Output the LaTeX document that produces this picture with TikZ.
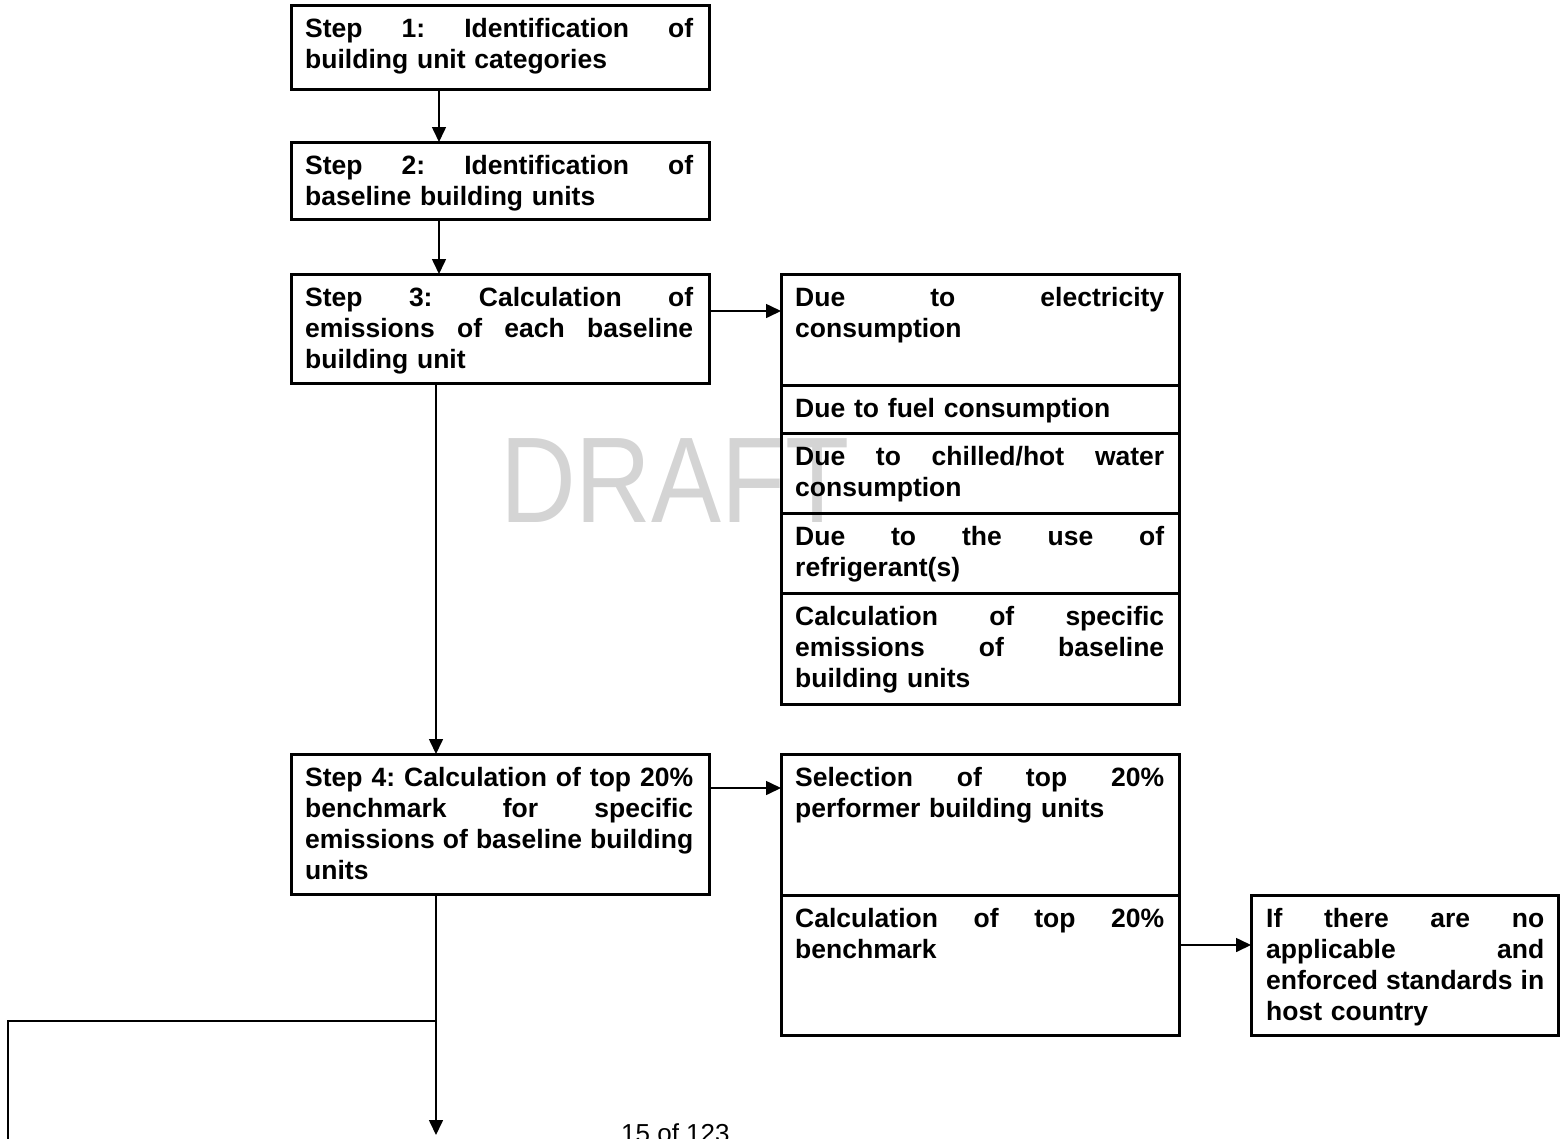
\documentclass[tikz,border=0pt]{standalone}
\usepackage{fontspec}
\setmainfont{Liberation Sans}
\usetikzlibrary{arrows.meta,calc}
\newcommand{\jl}[2]{\leavevmode\hbox to #1{\spaceskip=.278em plus 1fil\relax\xspaceskip=.278em plus 1fil\relax #2}}
\definecolor{wmgray}{RGB}{212,212,212}
\begin{document}
\begin{tikzpicture}[x=1pt,y=-1pt,
  box/.style={draw,line width=3pt,anchor=north west,inner sep=0pt,outer sep=0pt},
  txt/.style={anchor=base west,inner sep=0pt,align=left,font=\bfseries\fontsize{26.5}{31}\selectfont},
  conn/.style={line width=1.6pt,-{Triangle[length=15pt,width=14pt]}},
  plain/.style={line width=1.6pt}]
\useasboundingbox (0,0) rectangle (1561,1138);
% watermark
\node[anchor=base west,inner sep=0pt,text=wmgray,font=\fontsize{122}{122}\selectfont,xscale=0.86] (wm) at (500,522) {DRAFT};
% footer
\node[anchor=base west,inner sep=0pt,font=\fontsize{26}{26}\selectfont] (foot) at (621,1142) {15 of 123};
% left column
\node[box,minimum width=418pt,minimum height=84pt] (b1) at (291,5) {};
\node[box,minimum width=418pt,minimum height=77pt] (b2) at (291,142) {};
\node[box,minimum width=418pt,minimum height=109pt] (b3) at (291,274) {};
\node[box,minimum width=418pt,minimum height=140pt] (b4) at (291,754) {};
% right group A
\node[box,minimum width=398pt,minimum height=111pt] (a1) at (781,274) {};
\node[box,minimum width=398pt,minimum height=48pt] (a2) at (781,385) {};
\node[box,minimum width=398pt,minimum height=80pt] (a3) at (781,433) {};
\node[box,minimum width=398pt,minimum height=80pt] (a4) at (781,513) {};
\node[box,minimum width=398pt,minimum height=111pt] (a5) at (781,593) {};
% right group B
\node[box,minimum width=398pt,minimum height=141pt] (c1) at (781,754) {};
\node[box,minimum width=398pt,minimum height=140pt] (c2) at (781,895) {};
\node[box,minimum width=307pt,minimum height=140pt] (b5) at (1251,895) {};
% texts
\node[txt,text width=388pt] (t1) at ($(b1.north west)+(14,32)$) {\jl{388pt}{Step 1: Identification of}\\building unit categories};
\node[txt,text width=388pt] (t2) at ($(b2.north west)+(14,32)$) {\jl{388pt}{Step 2: Identification of}\\baseline building units};
\node[txt,text width=388pt] (t3) at ($(b3.north west)+(14,32)$) {\jl{388pt}{Step 3: Calculation of}\\\jl{388pt}{emissions of each baseline}\\building unit};
\node[txt,text width=388pt] (t4) at ($(b4.north west)+(14,32)$) {\jl{388pt}{Step 4: Calculation of top 20\%}\\\jl{388pt}{benchmark for specific}\\\jl{388pt}{emissions of baseline building}\\units};
\node[txt,text width=369pt] (ta1) at ($(a1.north west)+(14,32)$) {\jl{369pt}{Due to electricity}\\consumption};
\node[txt,text width=369pt] (ta2) at ($(a2.north west)+(14,32)$) {Due to fuel consumption};
\node[txt,text width=369pt] (ta3) at ($(a3.north west)+(14,32)$) {\jl{369pt}{Due to chilled/hot water}\\consumption};
\node[txt,text width=369pt] (ta4) at ($(a4.north west)+(14,32)$) {\jl{369pt}{Due to the use of}\\refrigerant(s)};
\node[txt,text width=369pt] (ta5) at ($(a5.north west)+(14,32)$) {\jl{369pt}{Calculation of specific}\\\jl{369pt}{emissions of baseline}\\building units};
\node[txt,text width=369pt] (tc1) at ($(c1.north west)+(14,32)$) {\jl{369pt}{Selection of top 20\%}\\performer building units};
\node[txt,text width=369pt] (tc2) at ($(c2.north west)+(14,32)$) {\jl{369pt}{Calculation of top 20\%}\\benchmark};
\node[txt,text width=278pt] (t5) at ($(b5.north west)+(15,32)$) {\jl{278pt}{If there are no}\\\jl{278pt}{applicable and}\\\jl{278pt}{enforced standards in}\\host country};
% connectors
\coordinate (cx) at (436,0);
\coordinate (cx2) at (439,0);
\coordinate (r1) at (0,311);
\coordinate (r2) at (0,788);
\coordinate (r3) at (0,945);
\coordinate (endp) at (436,1135);
\coordinate (br) at (436,1021);
\coordinate (lft) at (8,1021);
\coordinate (lftend) at (8,1140);
\draw[conn] (b1.south -| cx2) -- (b2.north -| cx2);
\draw[conn] (b2.south -| cx2) -- (b3.north -| cx2);
\draw[conn] (b3.south -| cx) -- (b4.north -| cx);
\draw[conn] (b3.east |- r1) -- (a1.west |- r1);
\draw[conn] (b4.east |- r2) -- (c1.west |- r2);
\draw[conn] (c2.east |- r3) -- (b5.west |- r3);
\draw[conn] (b4.south -| cx) -- (endp);
\draw[plain] (br) -- (lft) -- (lftend);
\end{tikzpicture}
\end{document}
